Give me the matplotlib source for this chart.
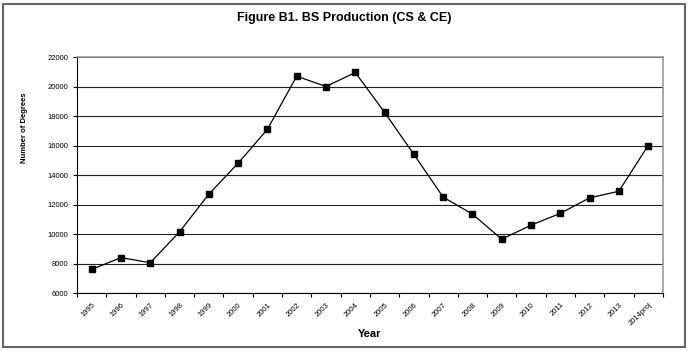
import matplotlib
matplotlib.use("Agg")
import matplotlib.pyplot as plt
from matplotlib.patches import Rectangle

plt.rcParams['font.family'] = ['Liberation Sans', 'DejaVu Sans']

years = ["1995", "1996", "1997", "1998", "1999", "2000", "2001", "2002", "2003", "2004",
         "2005", "2006", "2007", "2008", "2009", "2010", "2011", "2012", "2013", "2014proj"]
degrees = [7600, 8400, 8050, 10150, 12700, 14800, 17100, 20700, 20000, 20950,
           18250, 15400, 12500, 11350, 9650, 10600, 11400, 12450, 12900, 16000]
y_ticks = list(range(6000, 22001, 2000))

fig = plt.figure(figsize=(6.89, 3.51), dpi=100)
# outer frame of the figure
fig.patches.append(Rectangle((0.004, 0.012), 0.99, 0.978, transform=fig.transFigure,
                             fill=False, edgecolor="#666666", linewidth=1.5))

ax = fig.add_axes([0.1118, 0.1652, 0.8502, 0.6724])
x = list(range(len(years)))
ax.plot(x, degrees, color="black", linewidth=0.9, marker="s", markersize=5,
        markerfacecolor="black", markeredgecolor="black")

ax.set_xlim(-0.5, len(years) - 0.5)
ax.set_ylim(6000, 22000)
ax.set_yticks(y_ticks)
ax.set_yticklabels([str(v) for v in y_ticks], fontsize=5.5)
ax.yaxis.grid(True, color="#222222", linewidth=0.8)
ax.set_axisbelow(True)

# tick marks between categories, labels centred on them
ax.set_xticks([i - 0.5 for i in range(len(years) + 1)])
ax.set_xticklabels([])
ax.set_xticks(x, minor=True)
ax.set_xticklabels(years, minor=True, rotation=45, ha="right", rotation_mode="anchor", fontsize=5.5)
ax.tick_params(axis="x", which="minor", length=0, pad=6)
ax.tick_params(axis="both", which="major", direction="out", length=3, width=0.8)

for side in ["top", "right"]:
    ax.spines[side].set_color("#999999")
    ax.spines[side].set_linewidth(1.2)

ax.set_ylabel("Number of Degrees", fontsize=5.5, fontweight="bold")
ax.yaxis.set_label_coords(-0.083, 0.70)
ax.set_xlabel("Year", fontsize=8, fontweight="bold", labelpad=1.5)
fig.suptitle("Figure B1. BS Production (CS & CE)", fontsize=9, fontweight="bold", y=0.965)

fig.savefig("out.png", dpi=100)
